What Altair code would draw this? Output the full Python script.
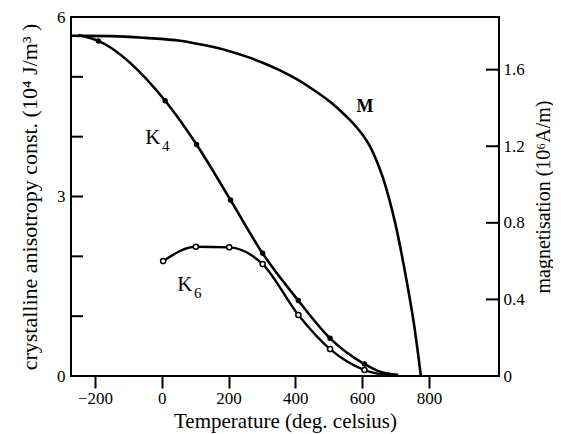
import altair as alt
import pandas as pd

# ---- data ----
k4_T = [-190, 10, 104, 206, 302, 409, 504, 607]
k4_K = [5.60, 4.60, 3.87, 2.94, 2.05, 1.26, 0.63, 0.20]
k4_line_T = [-250, -190, 10, 104, 206, 302, 409, 504, 607, 654, 708]
k4_line_K = [5.70, 5.60, 4.60, 3.87, 2.94, 2.05, 1.26, 0.63, 0.20, 0.07, 0.02]

k6_T = [4, 102, 202, 302, 409, 504, 607]
k6_K = [1.92, 2.16, 2.15, 1.87, 1.02, 0.45, 0.10]
k6_line_T = [4, 102, 202, 302, 409, 504, 607, 683]
k6_line_K = [1.92, 2.16, 2.15, 1.87, 1.02, 0.45, 0.10, 0.01]

m_T = [-272, -150, -50, 55, 130, 205, 254, 304, 354, 404, 454, 504, 534, 564, 584, 604,
       624, 644, 662, 680, 700, 720, 740, 757, 768, 776]
m_M = [1.777, 1.775, 1.766, 1.751, 1.727, 1.695, 1.668, 1.635, 1.596, 1.550, 1.495,
       1.432, 1.387, 1.336, 1.298, 1.254, 1.198, 1.122, 1.037, 0.932, 0.792, 0.622,
       0.432, 0.252, 0.110, 0.0]

left_ticks = [1, 2, 3, 4, 5]
right_ticks = [0.4, 0.8, 1.2, 1.6]
x_ticks = [-200, 0, 200, 400, 600, 800]

label_text = ["K", "K"]
label_sub = ["4", "6"]
label_T = [-27, 69]
label_K = [3.98, 1.52]
m_label_T = [609]
m_label_K = [4.50]

FONT = "Liberation Serif"
W, H = 428, 359

xscale = alt.Scale(domain=[-272, 1010], nice=False, zero=False)
x_axis = alt.Axis(values=x_ticks, title="Temperature (deg. celsius)", domain=False,
                  tickSize=12, tickWidth=2, tickColor="black", labelPadding=2,
                  grid=False, titlePadding=4, titleFontSize=21)
X = alt.X("T:Q", scale=xscale, axis=x_axis)

yl_scale = alt.Scale(domain=[0, 6], nice=False, zero=False)
yl_axis = alt.Axis(values=[0, 1, 2, 3, 4, 5, 6], ticks=False, tickSize=0, domain=False, grid=False,
                   labelExpr="datum.value % 3 == 0 ? datum.label : ''",
                   labelPadding=6, titlePadding=15, titleFontSize=22,
                   title="crystalline anisotropy const. (10⁴  J/m³ )")
YL = alt.Y("K:Q", scale=yl_scale, axis=yl_axis)

yr_scale = alt.Scale(domain=[0, 1.875], nice=False, zero=False)
yr_axis = alt.Axis(orient="right", values=[0, 0.4, 0.8, 1.2, 1.6], ticks=False, tickSize=0,
                   domain=False, grid=False,
                   labelExpr="datum.value == 0 ? '0' : format(datum.value, '.1f')",
                   labelPadding=4, titlePadding=9, titleAngle=270, titleBaseline="top",
                   titleFontSize=20,
                   title="magnetisation (10⁶A/m)")
YR = alt.Y("M:Q", scale=yr_scale, axis=yr_axis)

k4_line_df = pd.DataFrame({"T": k4_line_T, "K": k4_line_K})
k4_pts_df = pd.DataFrame({"T": k4_T, "K": k4_K})
k6_line_df = pd.DataFrame({"T": k6_line_T, "K": k6_line_K})
k6_pts_df = pd.DataFrame({"T": k6_T, "K": k6_K})
m_df = pd.DataFrame({"T": m_T, "M": m_M})
lt_df = pd.DataFrame({"K": left_ticks})
rt_df = pd.DataFrame({"M": right_ticks})
lab_df = pd.DataFrame({"T": label_T, "K": label_K, "t": label_text, "s": label_sub})
mlab_df = pd.DataFrame({"T": m_label_T, "K": m_label_K, "t": ["M"]})

k4_line = alt.Chart(k4_line_df).mark_line(color="black", strokeWidth=2.6, interpolate="monotone").encode(x=X, y=YL)
k6_line = alt.Chart(k6_line_df).mark_line(color="black", strokeWidth=2.4, interpolate="monotone").encode(x=X, y=YL)
k4_pts = alt.Chart(k4_pts_df).mark_point(shape="circle", filled=True, color="black", size=30, opacity=1).encode(x=X, y=YL)
k6_pts = alt.Chart(k6_pts_df).mark_point(shape="circle", fill="white", stroke="black", strokeWidth=1.5,
                                         size=26, opacity=1, fillOpacity=1).encode(x=X, y=YL)
lticks = alt.Chart(lt_df).mark_rule(color="black", strokeWidth=2).encode(
    x=alt.value(0), x2=alt.value(12), y=YL)
ktext = alt.Chart(lab_df).mark_text(font=FONT, fontSize=21, color="black").encode(x=X, y=YL, text="t:N")
ksub = alt.Chart(lab_df).mark_text(font=FONT, fontSize=15, color="black", dx=13, dy=8).encode(x=X, y=YL, text="s:N")
mtext = alt.Chart(mlab_df).mark_text(font=FONT, fontSize=18, fontWeight="bold", color="black").encode(x=X, y=YL, text="t:N")

left = alt.layer(k4_line, k6_line, k4_pts, k6_pts, lticks, ktext, ksub, mtext)

m_line = alt.Chart(m_df).mark_line(color="black", strokeWidth=2.6, interpolate="monotone").encode(x=X, y=YR)
rticks = alt.Chart(rt_df).mark_rule(color="black", strokeWidth=2).encode(
    x=alt.value(W - 13), x2=alt.value(W), y=YR)
right = alt.layer(m_line, rticks)

chart = alt.layer(left, right).resolve_scale(y="independent").properties(
    width=W, height=H,
    autosize=alt.AutoSizeParams(type="none"),
    padding={"left": 63, "top": 9, "right": 54, "bottom": 57},
).configure_view(stroke="black", strokeWidth=2).configure_axis(
    labelFont=FONT, titleFont=FONT, labelFontSize=17, titleFontSize=21,
    labelColor="black", titleColor="black", titleFontWeight="normal",
)

chart.save("out.html", embed_options={"renderer": "svg", "actions": False})
